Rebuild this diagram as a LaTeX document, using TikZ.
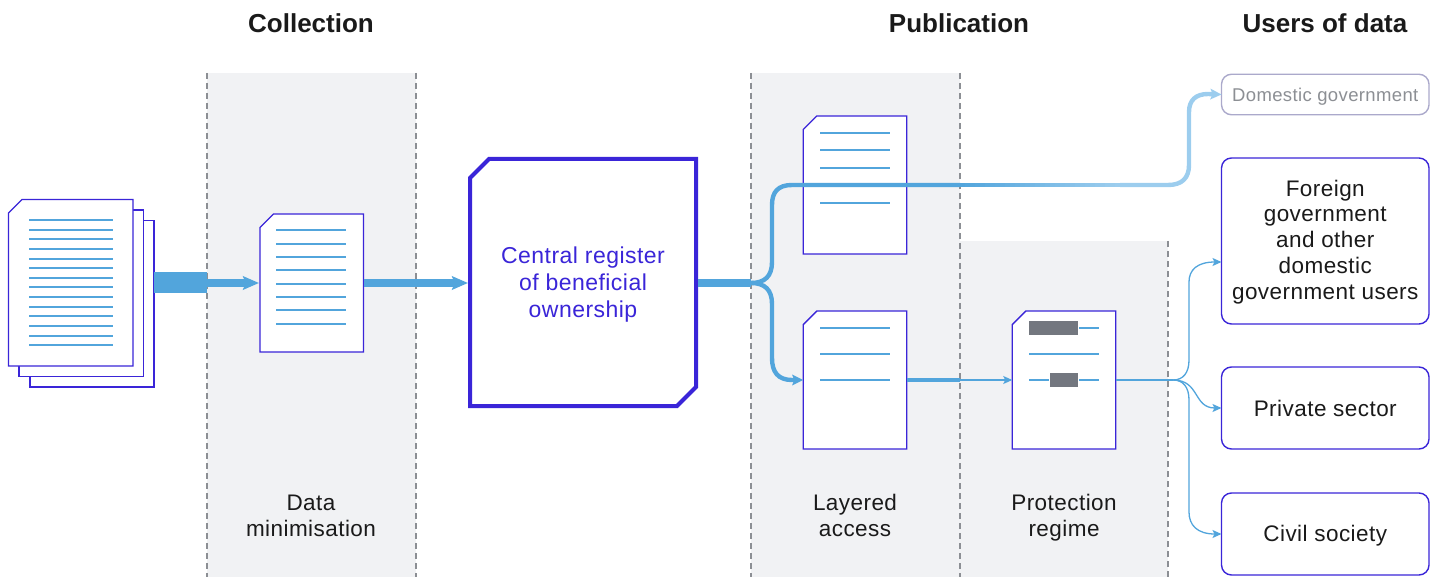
\documentclass[tikz,border=0pt]{standalone}
\usepackage{fontspec}
\setmainfont{Liberation Sans}
\newfontfamily\bodyf[LetterSpace=2]{Liberation Sans}
\usetikzlibrary{arrows.meta,shapes.misc}
\definecolor{flow}{HTML}{52A5DC}
\definecolor{flowlight}{HTML}{9CCDEE}
\definecolor{ink}{HTML}{3A25D8}
\definecolor{band}{HTML}{F1F2F4}
\definecolor{rule}{HTML}{8C8F94}
\definecolor{redact}{HTML}{73777F}
\definecolor{txt}{HTML}{1A1A1A}
\newcommand\vc{\rule[-6pt]{0pt}{26pt}}
\newcommand\vcb{\rule[-5pt]{0pt}{26pt}}
\newcommand\docedge[1]{\draw[docline] ([yshift=-13.5pt]#1.north west) -- ([xshift=13.5pt]#1.north west) -- (#1.north east) -- (#1.south east) -- (#1.south west) -- cycle;}
\tikzset{
  x=1pt,y=-1pt,
  bandbox/.style={fill=band,draw=none},
  sep/.style={draw=rule,line width=1.2pt,dash pattern=on 6pt off 4pt},
  doc/.style={rectangle,draw=none,inner sep=0pt,outer sep=0pt},
  docline/.style={draw=ink,fill=white,line width=1.4pt,line join=miter},
  txtline/.style={draw=flow,line width=2pt},
  redactbox/.style={fill=redact,draw=none,inner sep=0pt,outer sep=0pt},
  userbox/.style={draw=ink,fill=white,line width=1.4pt,rounded corners=10pt,
    minimum width=207.5pt,align=center,inner sep=0pt,outer sep=0pt,
    font=\bodyf\fontsize{22.5}{26}\selectfont,text=txt},
  head/.style={font=\fontsize{26}{30}\selectfont\bfseries,text=txt,inner sep=0pt},
  lbl/.style={font=\bodyf\fontsize{22.5}{26}\selectfont,text=txt,align=center,inner sep=0pt},
  bigflow/.style={draw=flow,line width=8pt},
  midflow/.style={draw=flow,line width=4.4pt,line join=round},
  thinflow/.style={draw=flow,line width=1.3pt},
  bigtip/.style={-{Stealth[length=16pt,width=13.5pt,inset=3pt]}},
  midtip/.style={-{Stealth[length=11pt,width=10.5pt,inset=2pt]}},
  thintip/.style={-{Stealth[length=9pt,width=8pt,inset=2pt]}},
}
\begin{document}
\begin{tikzpicture}
\useasboundingbox (0,0) rectangle (1440,577);
% bands
\fill[bandbox] (207,73) rectangle (416,577);
\fill[bandbox] (751,73) rectangle (960,577);
\fill[bandbox] (960,241) rectangle (1168,577);
% separators
\draw[sep] (207,73) -- (207,577);
\draw[sep] (416,73) -- (416,577);
\draw[sep] (751,73) -- (751,577);
\draw[sep] (960,73) -- (960,577);
\draw[sep] (1168,241) -- (1168,577);
% headings
\node[head] (hC) at (311,23) {Collection};
\node[head] (hP) at (959,23) {Publication};
\node[head] (hU) at (1325,23) {Users of data};
% stack of documents
\node[draw=ink,fill=white,line width=1.4pt,inner sep=0pt,minimum width=124pt,minimum height=166.5pt] (stackC) at (92,303.75) {};
\node[draw=ink,fill=white,line width=1.4pt,inner sep=0pt,minimum width=124.5pt,minimum height=166.5pt] (stackB) at (81.25,293.25) {};
\node[doc,minimum width=124.5pt,minimum height=166.5pt] (stack) at (70.75,282.75) {};
\docedge{stack}
\foreach \i in {0,...,13} \draw[txtline] (29,220+\i*9.64) -- (113,220+\i*9.64);
% data minimisation
\node[doc,minimum width=103.5pt,minimum height=138pt] (docA) at (311.75,283) {};
\docedge{docA}
\foreach \i in {0,...,7} \draw[txtline] (276,230.5+\i*13.3) -- (346,230.5+\i*13.3);
\node[lbl] (lA) at (311,516.7) {\vc Data\\\vc minimisation};
% register
\node[chamfered rectangle,chamfered rectangle corners={north west,south east},
  chamfered rectangle xsep=9.5pt,chamfered rectangle ysep=9.5pt,
  draw=ink,fill=white,line width=4pt,inner sep=0pt,outer sep=0pt,
  minimum width=226pt,minimum height=247pt,align=center,text=ink,
  font=\bodyf\fontsize{23}{27}\selectfont] (reg) at (583,282.5) {\vcb Central register\\\vcb of beneficial\\\vcb ownership};
% layered docs
\node[doc,minimum width=103.5pt,minimum height=138pt] (docB) at (855,185) {};
\docedge{docB}
\foreach \y in {133,150.5,168,185.5,203} \draw[txtline] (820,\y) -- (890,\y);
\node[doc,minimum width=103.5pt,minimum height=138pt] (docC) at (855,380) {};
\docedge{docC}
\foreach \y in {328,354,380} \draw[txtline] (820,\y) -- (890,\y);
\node[lbl] (lB) at (855,516.7) {\vc Layered\\\vc access};
% protected doc
\node[doc,minimum width=103.5pt,minimum height=138pt] (docD) at (1064,380) {};
\docedge{docD}
\draw[txtline] (1079,328) -- (1099,328);
\draw[txtline] (1029,354) -- (1099,354);
\draw[txtline] (1029,380) -- (1049,380);
\draw[txtline] (1079,380) -- (1099,380);
\node[redactbox,minimum width=49pt,minimum height=14pt] (rA) at (1053.5,328) {};
\node[redactbox,minimum width=28pt,minimum height=14pt] (rB) at (1064,380) {};
\node[lbl] (lC) at (1064,516.7) {\vc Protection\\\vc regime};
% users
\node[userbox,draw=rule!70!ink!60,minimum height=40.5pt,text=rule,font=\bodyf\fontsize{18.5}{22}\selectfont] (uA) at (1325.25,94.5) {\rule[-5pt]{0pt}{24pt}Domestic government};
\node[userbox,minimum height=166pt] (uB) at (1325.25,241) {\vc Foreign\\\vc government\\\vc and other\\\vc domestic\\\vc government users};
\node[userbox,minimum height=82pt] (uC) at (1325.25,408) {\vcb Private sector};
\node[userbox,minimum height=82pt] (uD) at (1325.25,534) {\vc Civil society};
% junction coordinates
\coordinate (gateA) at (207,283);
\coordinate (split) at (751,283);
\coordinate (gateB) at (960,380);
\coordinate (fan) at (1173,380);
\coordinate (fadeA) at (960,185);
\coordinate (fadeB) at (1120,185);
% flows
\node[fill=flow,inner sep=0pt,outer sep=0pt,minimum width=53pt,minimum height=21pt] (bar) at (180.5,282.5) {};
\draw[bigflow,bigtip,shorten >=1pt] (gateA) -- (docA.west |- gateA);
\draw[bigflow,bigtip,shorten >=2pt] (docA.east |- gateA) -- (reg.west |- gateA);
\draw[bigflow,shorten <=2pt] (reg.east |- split) -- (split);
% upper branch
\draw[midflow] (split) .. controls (765,283) and (772,276) .. (772,262)
  -- (772,205) .. controls (772,192) and (778,185) .. (792,185) -- (fadeA);
\foreach \i in {0,...,31} {
  \pgfmathtruncatemacro\mixv{100-\i*100/31}
  \draw[draw=flow!\mixv!flowlight,line width=4.4pt] (960+\i*5,185) -- (965.6+\i*5,185);
}
\draw[draw=flowlight,line width=4.4pt,line join=round,midtip] (fadeB) -- (1168,185)
  .. controls (1182,185) and (1189,178) .. (1189,165) -- (1189,112)
  .. controls (1189,100) and (1196,94) .. (1208,94) -- (uA.west);
% lower branch
\draw[midflow,midtip] (split) .. controls (765,283) and (772,290) .. (772,304)
  -- (772,358) .. controls (772,372) and (778,380) .. (792,380) -- (docC.west);
\draw[midflow] (docC.east) -- (gateB);
\draw[thinflow,thintip] (gateB) -- (docD.west);
% fan to users
\draw[thinflow] (docD.east) -- (fan);
\draw[thinflow,thintip] (fan) .. controls (1183,380) and (1189,373) .. (1189,360)
  -- (1189,282) .. controls (1189,270) and (1197,262) .. (uB.west |- 0,262);
\draw[thinflow,thintip] (fan) .. controls (1200,380) and (1193,408) .. (uC.west);
\draw[thinflow,thintip] (fan) .. controls (1183,380) and (1189,387) .. (1189,400)
  -- (1189,512) .. controls (1189,525) and (1197,534) .. (uD.west);
\end{tikzpicture}
\end{document}
